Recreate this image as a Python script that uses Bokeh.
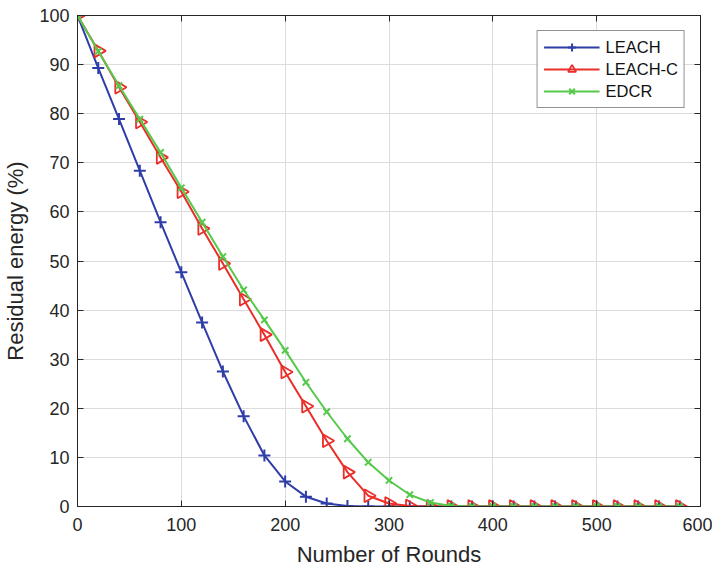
import math
from bokeh.plotting import figure
from bokeh.models import Range1d, LinearAxis, FixedTicker, Legend
from bokeh.embed import file_html
from bokeh.resources import INLINE

rounds = [0, 20, 40, 60, 80, 100, 120, 140, 160, 180, 200, 220, 240, 260, 280,
          300, 320, 340, 360, 380, 400, 420, 440, 460, 480, 500, 520, 540, 560, 580]
leach = [100, 89.3, 78.9, 68.4, 57.9, 47.7, 37.5, 27.5, 18.4, 10.4, 5.1, 2.0, 0.6, 0.1, 0,
         0, 0, 0, 0, 0, 0, 0, 0, 0, 0, 0, 0, 0, 0, 0]
leach_c = [100, 92.8, 85.4, 78.3, 71.1, 64.1, 56.6, 49.5, 42.2, 35.0, 27.4, 20.4, 13.4, 7.0, 2.2,
           0.6, 0.1, 0, 0, 0, 0, 0, 0, 0, 0, 0, 0, 0, 0, 0]
edcr = [100, 92.7, 85.7, 78.9, 72.1, 64.9, 57.9, 50.9, 44.1, 38.0, 31.8, 25.3, 19.3, 13.8, 9.0,
        5.3, 2.4, 0.8, 0.1, 0, 0, 0, 0, 0, 0, 0, 0, 0, 0, 0]
x_ticks = [0, 100, 200, 300, 400, 500, 600]
y_ticks = [0, 10, 20, 30, 40, 50, 60, 70, 80, 90, 100]

C_BLUE = "#2F3DA8"
C_RED = "#EA2E2A"
C_GREEN = "#55C94A"
FONT = "Liberation Sans"
TXT = "#262626"

p = figure(width=712, height=570, output_backend="svg", toolbar_location=None,
           x_range=Range1d(0, 600), y_range=Range1d(0, 100),
           min_border_left=77, min_border_right=12, min_border_top=15, min_border_bottom=64)

p.outline_line_color = TXT
p.outline_line_width = 1
p.background_fill_color = "white"
p.border_fill_color = "white"

for ax, tk in ((p.xaxis[0], x_ticks), (p.yaxis[0], y_ticks)):
    ax.ticker = FixedTicker(ticks=tk)
    ax.major_tick_in = 6
    ax.major_tick_out = 0
    ax.minor_tick_line_color = None
    ax.axis_line_color = TXT
    ax.major_tick_line_color = TXT
    ax.major_label_text_font = FONT
    ax.major_label_text_font_size = "18px"
    ax.major_label_text_color = TXT
    ax.axis_label_text_font = FONT
    ax.axis_label_text_font_size = "22px"
    ax.axis_label_text_font_style = "normal"
    ax.axis_label_text_color = TXT

p.xaxis.axis_label = "Number of Rounds"
p.yaxis.axis_label = "Residual energy (%)"
p.xaxis.major_label_standoff = 11
p.yaxis.major_label_standoff = 8
p.xaxis.axis_label_standoff = 8
p.yaxis.axis_label_standoff = 8

for loc, tk in (("above", x_ticks), ("right", y_ticks)):
    ax = LinearAxis(ticker=FixedTicker(ticks=tk))
    ax.major_tick_in = 6
    ax.major_tick_out = 0
    ax.minor_tick_line_color = None
    ax.axis_line_color = TXT
    ax.major_tick_line_color = TXT
    ax.major_label_text_font_size = "1px"
    ax.major_label_text_color = None
    ax.major_label_standoff = 0
    p.add_layout(ax, loc)

p.xgrid.ticker = FixedTicker(ticks=x_ticks)
p.ygrid.ticker = FixedTicker(ticks=y_ticks)
p.xgrid.grid_line_color = "#DCDCDC"
p.ygrid.grid_line_color = "#DCDCDC"

l1 = p.line(rounds, leach, line_color=C_BLUE, line_width=2)
s1 = p.scatter(rounds, leach, marker="cross", size=12, line_color=C_BLUE, line_width=2)
l2 = p.line(rounds, leach_c, line_color=C_RED, line_width=2)
s2 = p.scatter(rounds, leach_c, marker="triangle", angle=-math.pi / 2, size=13,
               line_color=C_RED, fill_color=None, line_width=1.8)
l3 = p.line(rounds, edcr, line_color=C_GREEN, line_width=2)
s3 = p.scatter(rounds, edcr, marker="x", size=9, line_color=C_GREEN, line_width=2)

legend = Legend(items=[("LEACH", [l1, s1]), ("LEACH-C", [l2, s2]), ("EDCR", [l3, s3])],
                location="top_right")
legend.label_text_font = FONT
legend.label_text_font_size = "16.5px"
legend.label_text_color = "#111111"
legend.border_line_color = TXT
legend.border_line_width = 1
legend.glyph_width = 56
legend.glyph_height = 20
legend.spacing = 2
legend.padding = 6
legend.margin = 15
legend.label_standoff = 6
p.add_layout(legend)

open("out.html", "w").write(file_html(p, INLINE))
